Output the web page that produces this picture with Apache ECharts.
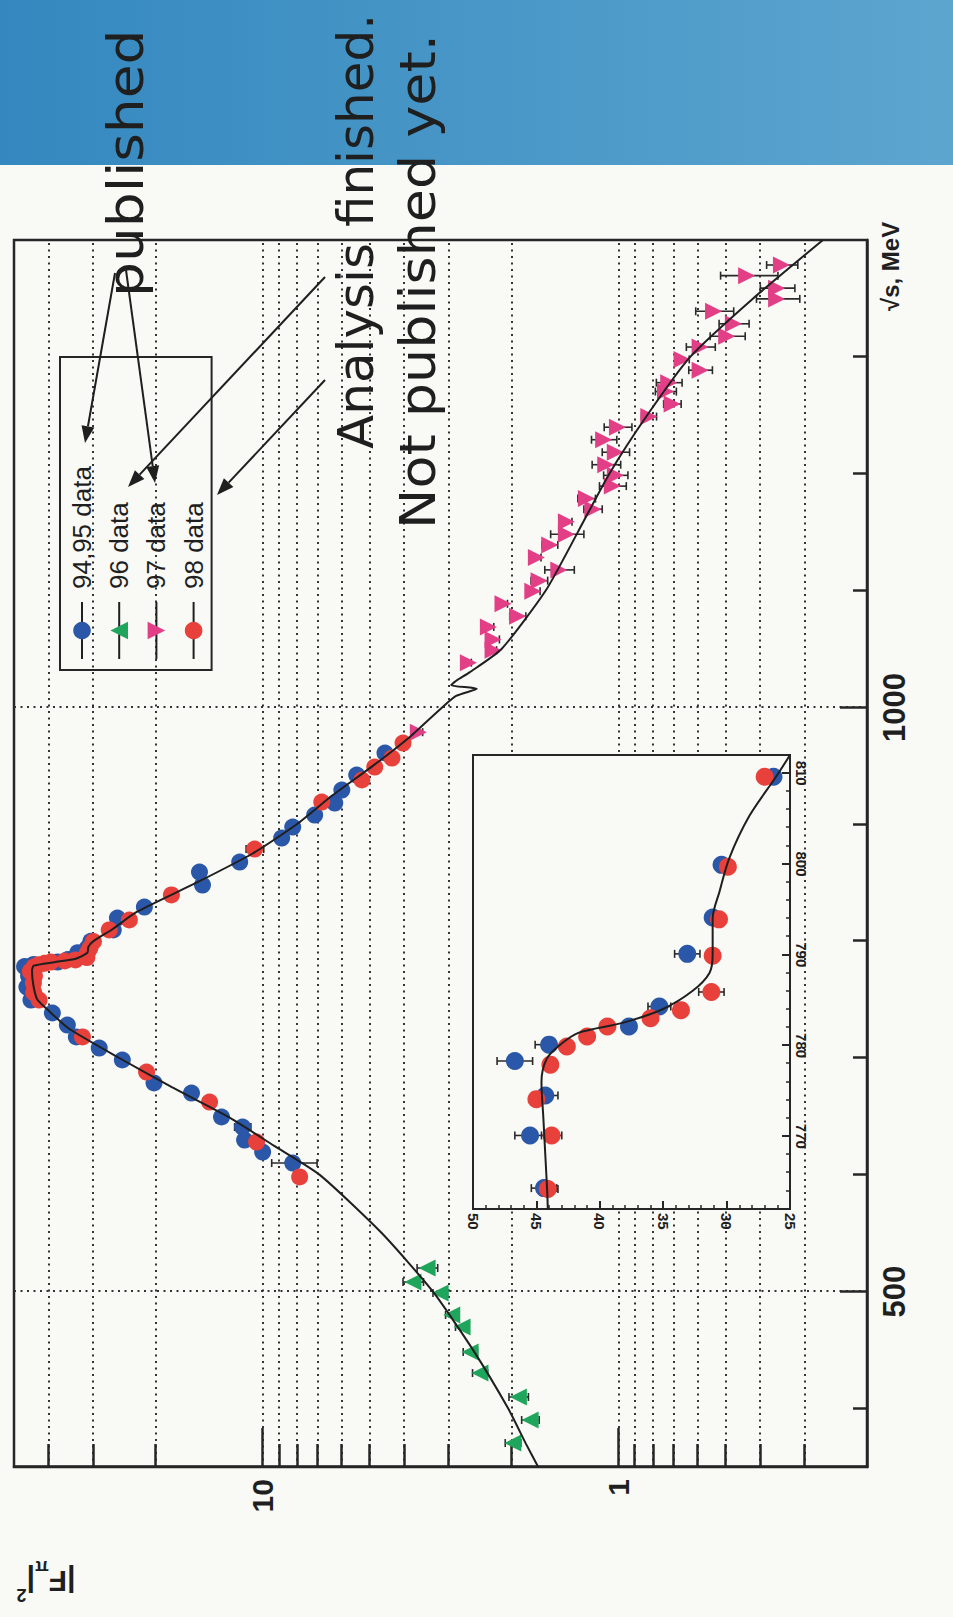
<!DOCTYPE html>
<html>
<head>
<meta charset="utf-8">
<title>Pion form factor</title>
<script src="https://cdn.jsdelivr.net/npm/echarts@6/dist/echarts.min.js"></script>
<style>
html, body { margin: 0; padding: 0; width: 953px; height: 1617px; overflow: hidden; background: #f9f9f6; }
/* the slide is photographed turned on its side, so the landscape chart is rotated */
#chart { position: absolute; left: 0; top: 0; width: 1617px; height: 953px;
         transform-origin: 0 0; transform: translate(0, 1617px) rotate(-90deg); }
</style>
</head>
<body>
<div id="chart"></div>
<script>
// ---- data: sqrt(s) in MeV, |F_pi|^2 ----
const curveE = [350, 370, 400, 450, 500, 550, 600, 625, 650, 675, 700, 725, 740, 750, 762, 775, 779, 782, 785, 790, 795, 800, 810, 825, 850, 875, 900, 925, 950, 975, 1000, 1010, 1016, 1019, 1023, 1030, 1050, 1100, 1150, 1200, 1250, 1300, 1350, 1400];
const curveF = [1.68, 1.82, 2.04, 2.56, 3.32, 4.62, 6.91, 9.3, 12.55, 18.0, 25.3, 35.0, 39.8, 43.0, 44.1, 44.5, 44.0, 38.5, 33.5, 31.1, 30.9, 29.9, 26.5, 22.6, 15.35, 10.67, 8.02, 6.35, 4.90, 3.85, 3.13, 2.85, 2.50, 2.95, 2.85, 2.62, 2.13, 1.60, 1.30, 1.06, 0.83, 0.628, 0.418, 0.266];

const blueE = [610.1, 619.5, 629.8, 640.9, 649.5, 670.0, 678.6, 698.3, 708.5, 718.0, 728.2, 738.5, 749.6, 760.7, 819.8, 829.2, 848.0, 859.1, 867.7, 888.2, 897.6, 907.9, 918.2, 929.3, 942.1, 961.0];
const blueF = [8.23, 10.0, 11.24, 11.39, 13.05, 15.85, 20.2, 24.8, 28.8, 33.4, 35.4, 39.0, 44.8, 46.0, 25.6, 21.5, 14.76, 15.05, 11.6, 8.84, 8.23, 7.14, 6.27, 5.99, 5.44, 4.53];
const blueErr = [1.2, 0.2, 0.3, 0.6, 0.2, 0.3, 0.4, 0.4, 0.4, 0.5, 0.6, 0.6, 0.7, 0.7, 0.4, 0.3, 0.2, 0.2, 0.2, 0.15, 0.15, 0.15, 0.12, 0.1, 0.1, 0.1];

const redE = [598.2, 628.1, 662.3, 688.0, 718.0, 749.6, 756.0, 818.1, 839.5, 878.8, 919.0, 937.9, 949.0, 956.7, 969.5];
const redF = [7.87, 10.4, 14.1, 21.2, 32.1, 42.5, 44.0, 23.7, 18.05, 10.53, 6.82, 5.26, 4.84, 4.33, 4.03];
const redErr = [0.15, 0.2, 0.3, 0.5, 0.4, 0.5, 0.5, 0.3, 0.3, 0.6, 0.1, 0.1, 0.1, 0.1, 0.1];

const greenE = [370.5, 390.2, 409.9, 430.4, 448.4, 469.8, 480.1, 498.9, 508.3, 520.3];
const greenF = [1.98, 1.77, 1.91, 2.45, 2.61, 2.75, 2.94, 3.17, 3.78, 3.45];
const greenErr = [0.1, 0.1, 0.12, 0.12, 0.12, 0.12, 0.12, 0.15, 0.25, 0.23];

const pinkE = [978.8, 1038.3, 1049.0, 1058.2, 1068.9, 1078.0, 1088.7, 1099.4, 1108.5, 1117.7, 1128.4, 1139.1, 1148.2, 1158.9, 1169.6, 1178.7, 1189.4, 1198.6, 1207.7, 1218.4, 1229.1, 1239.8, 1248.9, 1259.6, 1270.3, 1277.9, 1288.6, 1297.8, 1308.4, 1317.6, 1328.3, 1339.0, 1349.6, 1358.8, 1369.5, 1378.6];
const pinkF = [3.65, 2.64, 2.25, 2.25, 2.32, 1.92, 2.11, 1.74, 1.67, 1.47, 1.70, 1.56, 1.40, 1.40, 1.18, 1.23, 1.04, 1.02, 1.085, 1.02, 1.10, 1.006, 0.821, 0.706, 0.737, 0.722, 0.589, 0.662, 0.589, 0.496, 0.475, 0.540, 0.359, 0.359, 0.436, 0.348];
const pinkErr = [0.1, 0.05, 0.05, 0.09, 0.08, 0.1, 0.06, 0.08, 0.09, 0.14, 0.05, 0.08, 0.15, 0.05, 0.07, 0.07, 0.09, 0.08, 0.1, 0.09, 0.09, 0.09, 0.04, 0.04, 0.05, 0.06, 0.045, 0.03, 0.055, 0.056, 0.046, 0.066, 0.05, 0.04, 0.08, 0.035];

// inset: the omega region on a linear scale
const insetBlueE = [764.3, 770.1, 774.5, 778.3, 780.1, 782.1, 784.3, 790.1, 794.1, 799.9, 809.6];
const insetBlueF = [44.4, 45.5, 44.3, 46.7, 44.0, 37.7, 35.3, 33.1, 31.1, 30.4, 26.3];
const insetBlueErr = [1.0, 1.2, 1.0, 1.4, 1.1, 0.5, 0.9, 1.0, 0.4, 0.4, 0.3];

const insetRedE = [764.2, 770.1, 774.1, 777.9, 779.9, 781.0, 782.1, 783.0, 783.9, 785.9, 789.9, 793.9, 799.7, 809.6];
const insetRedF = [44.1, 43.8, 45.0, 43.9, 42.6, 41.0, 39.4, 36.0, 33.6, 31.2, 31.1, 30.6, 29.9, 27.0];
const insetRedErr = [0.8, 0.8, 0.3, 0.3, 0.3, 0.3, 0.3, 0.3, 0.3, 1.0, 0.3, 0.3, 0.3, 0.3];

const insetCurveE = [762, 764, 768, 772, 776, 778.5, 780, 781.4, 782.5, 784, 786, 788, 790, 794, 797, 800.6, 805.3, 809.6, 812];
const insetCurveF = [44.1, 44.15, 44.3, 44.45, 44.6, 44.2, 43.2, 41.7, 38.2, 35.05, 32.7, 31.35, 31.1, 31.1, 30.55, 29.8, 28.2, 26.1, 25.0];

// ticks
const energyMajor = [500, 1000];
const energyMinor = [400, 600, 700, 800, 900, 1100, 1200, 1300];
const ffMajor = [1, 10];
const ffMinor = [0.3, 0.4, 0.5, 0.6, 0.7, 0.8, 0.9, 2, 3, 4, 5, 6, 7, 8, 9, 20, 30, 40];
const insetEMajor = [770, 780, 790, 800, 810];
const insetEMinor = [764, 766, 768, 772, 774, 776, 778, 782, 784, 786, 788, 792, 794, 796, 798, 802, 804, 806, 808, 812];
const insetFMajor = [25, 30, 35, 40, 45, 50];
const insetFMinor = [26, 27, 28, 29, 31, 32, 33, 34, 36, 37, 38, 39, 41, 42, 43, 44, 46, 47, 48, 49];

const legendNames = ['94,95 data', '96 data', '97 data', '98 data'];
const notes = ['published', 'Analysis finished.', 'Not published yet.'];
// arrows from the notes to the legend rows (landscape px: x1, y1, x2, y2)
const arrowSegments = [
    [1344, 115, 1174, 85],
    [1347, 126, 1134, 155],
    [1340, 325, 1130, 128],
    [1237, 325, 1122, 217]
];

const AXIS_FONT = '"Liberation Sans", Arial, Helvetica, sans-serif';
const NOTE_FONT = '"DejaVu Sans", Verdana, sans-serif';
const INK = '#1f1f1f';
const BLUE = '#2b57a8', RED = '#e8403a', GREEN = '#1fa55c', PINK = '#e23f86';
const dotted = { color: '#333', width: 2, type: [2, 4.5] };

function pairs(xs, ys) {
    return xs.map((x, i) => [x, ys[i]]);
}

function bars(xs, ys, es) {
    return xs.map((x, i) => [x, ys[i] - es[i], ys[i] + es[i]]);
}

function renderErrorBar(params, api) {
    const lo = api.coord([api.value(0), api.value(1)]);
    const hi = api.coord([api.value(0), api.value(2)]);
    const cap = 4;
    const style = { stroke: '#2a2a2a', lineWidth: 1.6 };
    return {
        type: 'group',
        children: [
            { type: 'line', shape: { x1: lo[0], y1: lo[1], x2: hi[0], y2: hi[1] }, style },
            { type: 'line', shape: { x1: lo[0] - cap, y1: lo[1], x2: lo[0] + cap, y2: lo[1] }, style },
            { type: 'line', shape: { x1: hi[0] - cap, y1: hi[1], x2: hi[0] + cap, y2: hi[1] }, style }
        ]
    };
}

function errSeries(xs, ys, es, axis, z) {
    return {
        type: 'custom', xAxisIndex: axis, yAxisIndex: axis, silent: true, z,
        renderItem: renderErrorBar, encode: { x: 0, y: [1, 2] },
        data: bars(xs, ys, es)
    };
}

function markSeries(name, data, symbol, color, size, axis, z) {
    return {
        name, type: 'line', xAxisIndex: axis, yAxisIndex: axis, data,
        symbol, symbolSize: size, showSymbol: true, silent: true, z,
        itemStyle: { color }, lineStyle: { width: 0, opacity: 0 },
        emphasis: { disabled: true }
    };
}

function arrow(seg) {
    const [x1, y1, x2, y2] = seg;
    const a = Math.atan2(y2 - y1, x2 - x1), L = 17, W = 6.5;
    const bx = x2 - L * Math.cos(a), by = y2 - L * Math.sin(a);
    const nx = -Math.sin(a) * W, ny = Math.cos(a) * W;
    return [
        { type: 'line', z: 50, shape: { x1, y1, x2: bx, y2: by }, style: { stroke: INK, lineWidth: 2 } },
        { type: 'polygon', z: 50, shape: { points: [[x2, y2], [bx + nx, by + ny], [bx - nx, by - ny]] }, style: { fill: INK } }
    ];
}

const downTriangle = 'path://M0,0L10,0L5,9Z';

const chart = echarts.init(document.getElementById('chart'), null, { renderer: 'svg' });

chart.setOption({
    animation: false,
    backgroundColor: 'transparent',
    legend: {
        data: legendNames, orient: 'vertical', left: 947, top: 60,
        itemWidth: 57, itemHeight: 22, itemGap: 11.2, padding: [9, 109, 5, 10],
        borderColor: '#262626', borderWidth: 2, selectedMode: false,
        lineStyle: { color: INK, width: 2, opacity: 1, type: 'solid' },
        textStyle: { fontSize: 26, fontFamily: AXIS_FONT, color: INK, padding: [0, 0, 0, 8] }
    },
    grid: [
        { left: 150, top: 14, width: 1227, height: 853, show: true, borderColor: '#262626', borderWidth: 2.5, backgroundColor: 'transparent' },
        { left: 408, top: 473, width: 454, height: 317, show: true, borderColor: '#262626', borderWidth: 2, backgroundColor: '#f9f9f6', z: 1 }
    ],
    xAxis: [
        {
            type: 'value', gridIndex: 0, position: 'bottom', min: 350, max: 1400,
            axisLine: { show: true, lineStyle: { color: '#262626', width: 2.5 } },
            axisTick: { inside: true, length: 27, customValues: energyMajor, lineStyle: { color: '#262626', width: 2.5 } },
            axisLabel: { customValues: energyMajor, formatter: v => String(v), fontSize: 31, fontWeight: 'bold', fontFamily: AXIS_FONT, color: INK, margin: 12 },
            splitLine: { show: true, lineStyle: dotted }
        },
        {
            type: 'value', gridIndex: 0, position: 'bottom', min: 350, max: 1400,
            axisLine: { show: false },
            axisTick: { inside: true, length: 14, customValues: energyMinor, lineStyle: { color: '#262626', width: 2.5 } },
            axisLabel: { show: false }, splitLine: { show: false }
        },
        {
            type: 'value', gridIndex: 1, position: 'bottom', min: 762, max: 812, z: 3,
            axisLine: { show: true, lineStyle: { color: '#262626', width: 2 } },
            axisTick: { inside: true, length: 8, customValues: insetEMajor, lineStyle: { color: '#262626', width: 2 } },
            axisLabel: { customValues: insetEMajor, formatter: v => String(v), rotate: 180, fontSize: 15, fontWeight: 'bold', fontFamily: AXIS_FONT, color: INK, margin: 4 },
            splitLine: { show: false }
        },
        {
            type: 'value', gridIndex: 1, position: 'bottom', min: 762, max: 812, z: 3,
            axisLine: { show: false },
            axisTick: { inside: true, length: 4, customValues: insetEMinor, lineStyle: { color: '#262626', width: 1.5 } },
            axisLabel: { show: false }, splitLine: { show: false }
        }
    ],
    yAxis: [
        {
            type: 'log', gridIndex: 0, position: 'left', min: 0.2, max: 50,
            axisLine: { show: true, lineStyle: { color: '#262626', width: 2.5 } },
            axisTick: { inside: true, length: 39, customValues: ffMajor, lineStyle: { color: '#262626', width: 2.5 } },
            axisLabel: { customValues: ffMajor, formatter: v => String(Math.round(v)), fontSize: 30, fontWeight: 'bold', fontFamily: AXIS_FONT, color: INK, margin: 12 },
            splitLine: { show: true, lineStyle: dotted }
        },
        {
            type: 'log', gridIndex: 0, position: 'left', min: 0.2, max: 50,
            axisLine: { show: false },
            axisTick: { inside: true, length: 23, customValues: ffMinor, lineStyle: { color: '#262626', width: 2.5 } },
            axisLabel: { show: false },
            splitLine: { show: true, lineStyle: dotted }
        },
        {
            type: 'value', gridIndex: 1, position: 'left', min: 25, max: 50, z: 3,
            axisLine: { show: true, lineStyle: { color: '#262626', width: 2 } },
            axisTick: { inside: true, length: 8, customValues: insetFMajor, lineStyle: { color: '#262626', width: 2 } },
            axisLabel: { customValues: insetFMajor, formatter: v => String(v), rotate: 180, fontSize: 15, fontWeight: 'bold', fontFamily: AXIS_FONT, color: INK, margin: 4 },
            splitLine: { show: false }
        },
        {
            type: 'value', gridIndex: 1, position: 'left', min: 25, max: 50, z: 3,
            axisLine: { show: false },
            axisTick: { inside: true, length: 4, customValues: insetFMinor, lineStyle: { color: '#262626', width: 1.5 } },
            axisLabel: { show: false }, splitLine: { show: false }
        }
    ],
    graphic: [
        {
            type: 'rect', z: 0, silent: true,
            shape: { x: 1452, y: 0, width: 165, height: 953 },
            style: { fill: new echarts.graphic.LinearGradient(0, 0, 0, 1, [
                { offset: 0, color: '#3488bf' }, { offset: 1, color: '#5ca5cf' }
            ]) }
        },
        { type: 'text', z: 60, x: 1320, y: 125, scaleX: 1.1, style: { text: notes[0], font: '50px ' + NOTE_FONT, fill: INK, align: 'left', verticalAlign: 'middle' } },
        { type: 'text', z: 60, x: 1168, y: 356, style: { text: notes[1], font: '50px ' + NOTE_FONT, fill: INK, align: 'left', verticalAlign: 'middle' } },
        { type: 'text', z: 60, x: 1088, y: 418, scaleX: 1.08, style: { text: notes[2], font: '50px ' + NOTE_FONT, fill: INK, align: 'left', verticalAlign: 'middle' } },
        ...arrowSegments.flatMap(arrow),
        { type: 'text', z: 60, x: 1306, y: 890, style: { text: '√s, MeV', font: 'bold 24px ' + AXIS_FONT, fill: INK, align: 'left', verticalAlign: 'middle' } },
        {
            type: 'text', z: 60, x: 36, y: 46, rotation: Math.PI / 2,
            style: {
                text: '|F{sub|π}|{sup|2}', font: 'bold 30px ' + AXIS_FONT, fill: INK,
                align: 'center', verticalAlign: 'middle', lineHeight: 46,
                rich: {
                    sub: { fontSize: 18, fontWeight: 'bold', fontFamily: AXIS_FONT, verticalAlign: 'bottom', fill: INK },
                    sup: { fontSize: 18, fontWeight: 'bold', fontFamily: AXIS_FONT, verticalAlign: 'top', fill: INK }
                }
            }
        }
    ],
    series: [
        errSeries(blueE, blueF, blueErr, 0, 3),
        errSeries(redE, redF, redErr, 0, 3),
        errSeries(greenE, greenF, greenErr, 0, 3),
        errSeries(pinkE, pinkF, pinkErr, 0, 3),
        errSeries(insetBlueE, insetBlueF, insetBlueErr, 0, 3),
        markSeries(legendNames[0], pairs(blueE, blueF).concat(pairs(insetBlueE, insetBlueF)), 'circle', BLUE, 17, 0, 4),
        markSeries(legendNames[1], pairs(greenE, greenF), 'triangle', GREEN, 17, 0, 4),
        markSeries(legendNames[2], pairs(pinkE, pinkF), downTriangle, PINK, 17, 0, 4),
        markSeries(legendNames[3], pairs(redE, redF).concat(pairs(insetRedE, insetRedF)), 'circle', RED, 17, 0, 4),
        {
            type: 'line', xAxisIndex: 0, yAxisIndex: 0, data: pairs(curveE, curveF),
            symbol: 'none', smooth: 0.2, silent: true, z: 6,
            lineStyle: { color: INK, width: 2 }
        },
        // inset
        errSeries(insetBlueE, insetBlueF, insetBlueErr, 2, 5),
        errSeries(insetRedE, insetRedF, insetRedErr, 2, 5),
        markSeries(legendNames[0], pairs(insetBlueE, insetBlueF), 'circle', BLUE, 18, 2, 6),
        markSeries(legendNames[3], pairs(insetRedE, insetRedF), 'circle', RED, 18, 2, 6),
        {
            type: 'line', xAxisIndex: 2, yAxisIndex: 2, data: pairs(insetCurveE, insetCurveF),
            symbol: 'none', smooth: 0.3, silent: true, z: 7, clip: true,
            lineStyle: { color: INK, width: 2 }
        }
    ]
});
</script>
</body>
</html>
